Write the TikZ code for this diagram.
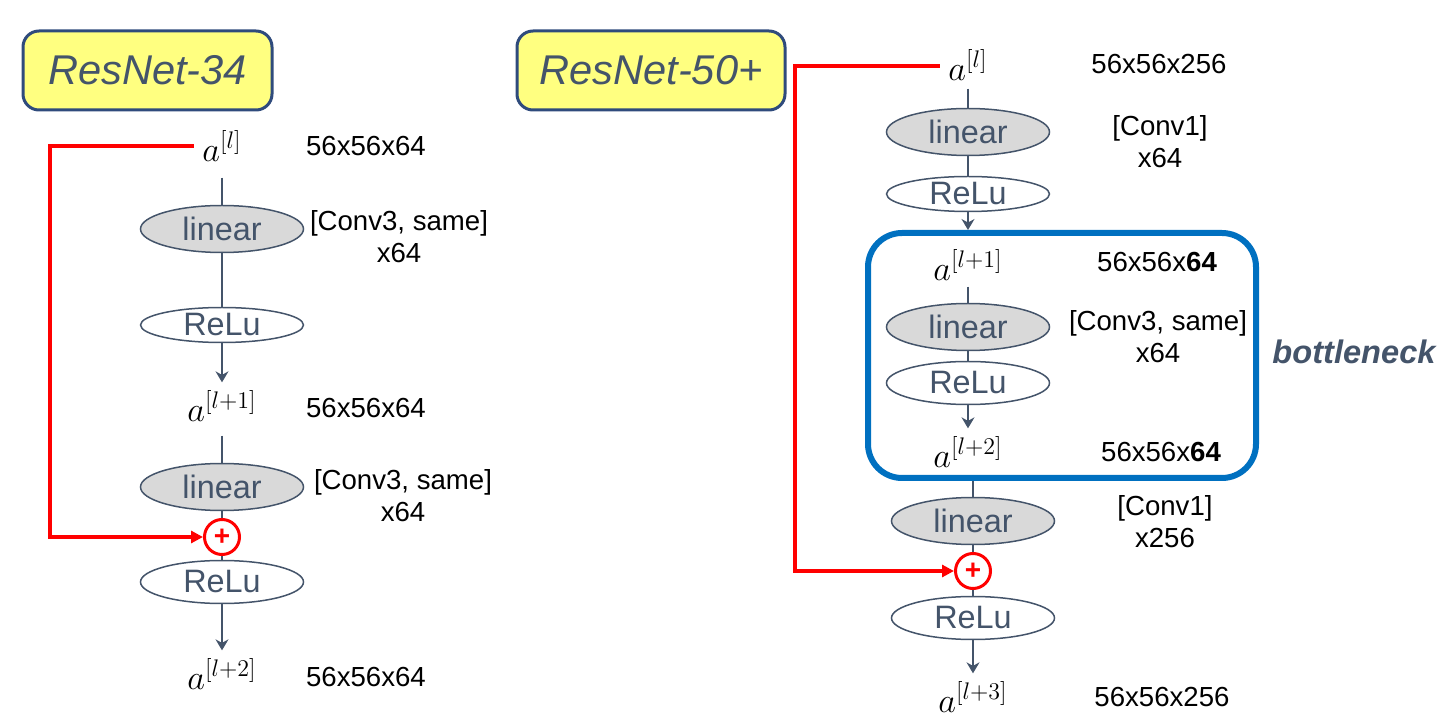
\documentclass[tikz,border=0pt]{standalone}
\usepackage{fontspec}
\setmainfont{Liberation Sans}
\usetikzlibrary{shapes.geometric,arrows.meta}
\definecolor{slate}{HTML}{44546A}
\definecolor{titlefill}{HTML}{FFFF80}
\definecolor{titleline}{HTML}{2F4B7C}
\definecolor{bneck}{HTML}{0070C0}

\begin{document}
\begin{tikzpicture}[x=0.5pt, y=-0.5pt,
  title/.style={draw=titleline, line width=1.5pt, rounded corners=8pt, fill=titlefill, minimum height=39.5pt, text=slate, font=\fontsize{20.8}{24}\selectfont\itshape},
  lin/.style={ellipse, draw=slate, line width=0.75pt, fill=gray!30, minimum width=81.5pt, minimum height=23.5pt, inner sep=0pt, text=slate, font=\fontsize{16.2}{18}\selectfont},
  relu/.style={lin, fill=white, minimum height=21.5pt},
  act/.style={inner sep=1pt, font=\fontsize{18}{20}\selectfont},
  dims/.style={align=center, font=\fontsize{13.8}{16}\selectfont},
  plus/.style={circle, draw=red, line width=1.5pt, minimum size=17.5pt, inner sep=0pt, text=red, font=\fontsize{14}{14}\selectfont\bfseries},
  conn/.style={draw=slate, line width=0.6pt},
  arr/.style={conn, -{Stealth[length=5.5pt, width=6.5pt]}, shorten >=3pt},
  skip/.style={draw=red, line width=1.6pt, -{Triangle[length=6pt, width=6pt]}, shorten <=3pt},
  neckbox/.style={draw=bneck, line width=3pt, rounded corners=17pt, minimum width=194pt, minimum height=122.5pt}
]
\useasboundingbox (0,0) rectangle (1452,721);

\node[title, minimum width=124.5pt] (title34) at (147.5,70.5) {ResNet-34};
\node[title, minimum width=134pt] (title50) at (651,70.5) {ResNet-50+};

\node[act] (alA) at (222,146) {$a^{[l]}$};
\node[dims] (dimA0) at (366,146) {56x56x64};
\node[lin] (linA1) at (222,229) {linear};
\node[dims] (convA1) at (399,237) {[Conv3, same]\\x64};
\node[relu, minimum height=17.5pt] (reluA1) at (222,325) {ReLu};
\node[act] (alA1) at (222,406) {$a^{[l+1]}$};
\node[dims] (dimA1) at (366,408) {56x56x64};
\node[lin] (linA2) at (222,487) {linear};
\node[dims] (convA2) at (403,496) {[Conv3, same]\\x64};
\node[plus] (plusA) at (222,537) {+};
\node[relu] (reluA2) at (222,582) {ReLu};
\node[act] (alA2) at (222,674) {$a^{[l+2]}$};
\node[dims] (dimA2) at (366,677) {56x56x64};
\coordinate (skipA) at (50,146);

\draw[conn, shorten <=7pt] (alA) -- (linA1);
\draw[conn] (linA1) -- (reluA1);
\draw[arr] (reluA1) -- (alA1);
\draw[conn, shorten <=6pt] (alA1) -- (linA2);
\draw[conn] (linA2) -- (plusA);
\draw[conn] (plusA) -- (reluA2);
\draw[arr] (reluA2) -- (alA2);
\draw[skip] (alA.west |- skipA) -- (skipA) |- (plusA.west);

\node[act] (alB) at (968,65) {$a^{[l]}$};
\node[dims] (dimB0) at (1159,64) {56x56x256};
\node[lin] (linB1) at (968,132) {linear};
\node[dims] (convB1) at (1160,142) {[Conv1]\\x64};
\node[relu, minimum height=17.5pt] (reluB1) at (968,194) {ReLu};
\node[neckbox] (neck) at (1062,355.5) {};
\node[act] (alB1) at (968,265) {$a^{[l+1]}$};
\node[dims] (dimB1) at (1157,262) {56x56x\textbf{64}};
\node[lin] (linB2) at (968,327) {linear};
\node[dims] (convB2) at (1158,337) {[Conv3, same]\\x64};
\node[relu] (reluB2) at (968,383) {ReLu};
\node[act] (alB2) at (968,452) {$a^{[l+2]}$};
\node[dims] (dimB2) at (1161,452) {56x56x\textbf{64}};
\node[text=slate, font=\fontsize{16.3}{18}\selectfont\bfseries\itshape] (neckname) at (1354,352) {bottleneck};
\node[lin] (linB3) at (973,521) {linear};
\node[dims] (convB3) at (1165,522) {[Conv1]\\x256};
\node[plus] (plusB) at (973,571) {+};
\node[relu] (reluB3) at (973,618) {ReLu};
\node[act] (alB3) at (973,697) {$a^{[l+3]}$};
\node[dims] (dimB3) at (1162,697) {56x56x256};
\coordinate (skipB) at (795,66);

\draw[conn, shorten <=3pt] (alB) -- (linB1);
\draw[conn] (linB1) -- (reluB1);
\draw[arr, shorten >=0pt] (reluB1) -- (reluB1 |- neck.north);
\draw[conn, shorten <=2pt] (alB1) -- (linB2);
\draw[conn] (linB2) -- (reluB2);
\draw[arr] (reluB2) -- (alB2);
\draw[conn] (neck.south -| linB3) -- (linB3);
\draw[conn] (linB3) -- (plusB);
\draw[conn] (plusB) -- (reluB3);
\draw[arr] (reluB3) -- (alB3);
\draw[skip] (alB.west |- skipB) -- (skipB) |- (plusB.west);
\end{tikzpicture}
\end{document}
